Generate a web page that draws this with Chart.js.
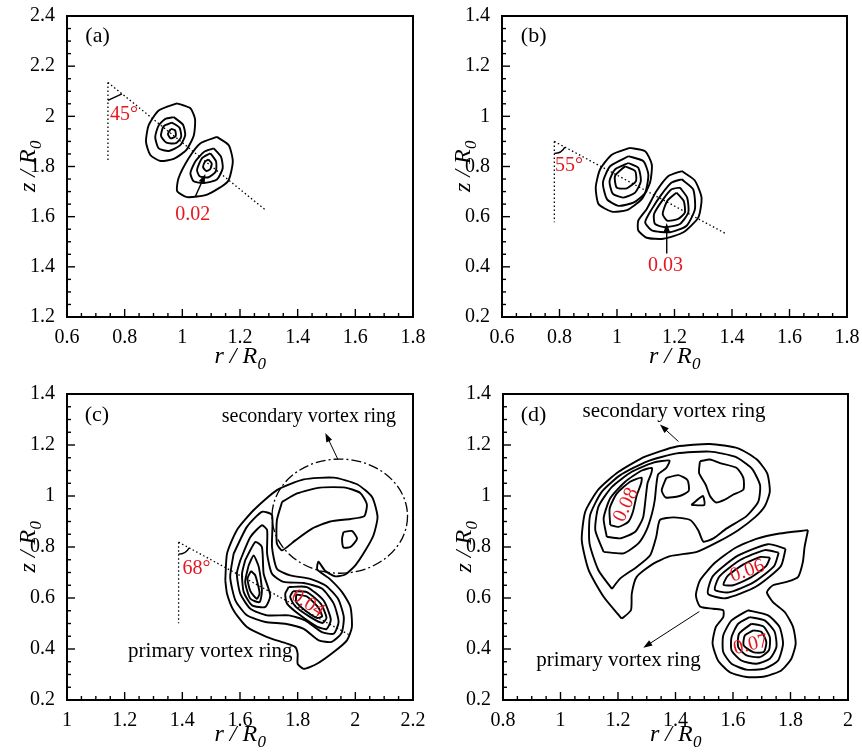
<!DOCTYPE html>
<html>
<head>
<meta charset="utf-8">
<title>vortex ring contours</title>
<script src="https://cdn.jsdelivr.net/npm/chart.js@4.4.1/dist/chart.umd.min.js"></script>
<style>
  html, body { margin: 0; padding: 0; background: #fff; }
  #wrap { position: relative; width: 862px; height: 756px; overflow: hidden; }
  canvas { position: absolute; }
</style>
</head>
<body>
<div id="wrap">
  <canvas id="chartA" width="431" height="378" style="left:0;top:0"></canvas>
  <canvas id="chartB" width="431" height="378" style="left:431px;top:0"></canvas>
  <canvas id="chartC" width="431" height="378" style="left:0;top:378px"></canvas>
  <canvas id="chartD" width="431" height="378" style="left:431px;top:378px"></canvas>
</div>
<script>
const RED = '#e3171f';
const SERIF = '"Liberation Serif", "Times New Roman", serif';

// ---- tick labels ----
const aXTicks = [0.6, 0.8, 1, 1.2, 1.4, 1.6, 1.8];
const aYTicks = [1.2, 1.4, 1.6, 1.8, 2, 2.2, 2.4];
const bXTicks = [0.6, 0.8, 1, 1.2, 1.4, 1.6, 1.8];
const bYTicks = [0.2, 0.4, 0.6, 0.8, 1, 1.2, 1.4];
const cXTicks = [1, 1.2, 1.4, 1.6, 1.8, 2, 2.2];
const cYTicks = [0.2, 0.4, 0.6, 0.8, 1, 1.2, 1.4];
const dXTicks = [0.8, 1, 1.2, 1.4, 1.6, 1.8, 2];
const dYTicks = [0.2, 0.4, 0.6, 0.8, 1, 1.2, 1.4];

// ---- (a) contour lines, [r/R0, z/R0] ----
const aUpper1 = [[0.982,2.052],[1.028,2.032],[1.044,1.990],[1.040,1.925],[1.014,1.866],[0.970,1.830],[0.924,1.822],[0.889,1.846],[0.874,1.898],[0.883,1.964],[0.918,2.023]];
const aUpper2 = [[0.970,1.997],[1.002,1.967],[1.010,1.925],[0.993,1.885],[0.953,1.862],[0.918,1.872],[0.906,1.918],[0.918,1.964],[0.941,1.990]];
const aUpper3 = [[0.964,1.975],[0.990,1.955],[0.996,1.918],[0.978,1.893],[0.945,1.895],[0.926,1.922],[0.935,1.960]];
const aUpper4 = [[0.960,1.950],[0.975,1.944],[0.977,1.921],[0.960,1.912],[0.950,1.930]];
const aLower1 = [[1.120,1.918],[1.161,1.885],[1.175,1.820],[1.158,1.741],[1.086,1.688],[1.016,1.678],[0.982,1.702],[0.987,1.754],[1.022,1.833],[1.062,1.892]];
const aLower2 = [[1.109,1.872],[1.134,1.839],[1.140,1.793],[1.120,1.748],[1.074,1.734],[1.039,1.741],[1.028,1.774],[1.045,1.820],[1.076,1.859]];
const aLower3 = [[1.097,1.853],[1.117,1.820],[1.116,1.780],[1.091,1.757],[1.060,1.761],[1.051,1.787],[1.068,1.833]];
const aLower4 = [[1.090,1.828],[1.102,1.812],[1.097,1.790],[1.083,1.782],[1.072,1.797],[1.078,1.818]];
const aGuideV = [[0.742,2.135],[0.742,1.817]];
const aGuideD = [[0.742,2.135],[1.286,1.629]];

// ---- (b) ----
const bUpper1 = [[1.045,0.874],[1.098,0.861],[1.121,0.808],[1.115,0.736],[1.086,0.670],[1.034,0.626],[0.982,0.620],[0.936,0.650],[0.926,0.716],[0.941,0.788],[0.982,0.847]];
const bUpper2 = [[1.040,0.841],[1.092,0.821],[1.109,0.768],[1.098,0.696],[1.059,0.657],[1.005,0.643],[0.965,0.670],[0.951,0.736],[0.976,0.801]];
const bUpper3 = [[1.040,0.814],[1.074,0.795],[1.083,0.742],[1.063,0.696],[1.022,0.676],[0.985,0.692],[0.974,0.742],[0.993,0.788]];
const bUpper4 = [[1.028,0.801],[1.063,0.782],[1.066,0.742],[1.034,0.713],[0.999,0.716],[0.993,0.762]];
const bLower1 = [[1.225,0.782],[1.270,0.745],[1.294,0.676],[1.283,0.597],[1.231,0.538],[1.161,0.512],[1.103,0.516],[1.074,0.545],[1.074,0.584],[1.103,0.630],[1.138,0.703],[1.179,0.762]];
const bLower2 = [[1.225,0.749],[1.265,0.709],[1.271,0.630],[1.242,0.564],[1.184,0.538],[1.121,0.545],[1.098,0.578],[1.121,0.630],[1.155,0.689],[1.190,0.736]];
const bLower3 = [[1.219,0.716],[1.244,0.676],[1.248,0.617],[1.219,0.571],[1.167,0.558],[1.132,0.571],[1.129,0.611],[1.161,0.670],[1.190,0.709]];
const bLower4 = [[1.207,0.696],[1.232,0.663],[1.236,0.617],[1.213,0.591],[1.175,0.584],[1.159,0.611],[1.175,0.663]];
const bGuideV = [[0.782,0.900],[0.782,0.578]];
const bGuideD = [[0.782,0.900],[1.379,0.532]];

// ---- (c) ----
const cOuter = [[1.549,0.669],[1.555,0.774],[1.589,0.866],[1.647,0.944],[1.728,1.023],[1.821,1.065],[1.925,1.072],[2.006,1.046],[2.058,0.996],[2.077,0.918],[2.063,0.846],[2.035,0.787],[2.000,0.728],[1.965,0.692],[1.931,0.685],[1.896,0.706],[1.872,0.742],[1.868,0.712],[1.910,0.676],[1.954,0.623],[1.983,0.565],[1.988,0.486],[1.971,0.434],[1.925,0.388],[1.867,0.342],[1.821,0.322],[1.800,0.342],[1.800,0.381],[1.792,0.407],[1.763,0.421],[1.694,0.447],[1.624,0.486],[1.578,0.551],[1.555,0.617]];
const cPrim1 = [[1.578,0.774],[1.624,0.879],[1.676,0.938],[1.711,0.925],[1.711,0.800],[1.728,0.715],[1.774,0.689],[1.844,0.675],[1.898,0.648],[1.940,0.597],[1.960,0.525],[1.952,0.462],[1.918,0.428],[1.873,0.434],[1.821,0.479],[1.757,0.499],[1.688,0.506],[1.624,0.532],[1.584,0.591],[1.566,0.682]];
const cPrim2 = [[1.601,0.748],[1.636,0.839],[1.676,0.885],[1.694,0.866],[1.694,0.774],[1.711,0.695],[1.751,0.663],[1.821,0.659],[1.884,0.637],[1.925,0.578],[1.942,0.506],[1.925,0.460],[1.884,0.466],[1.826,0.512],[1.769,0.532],[1.694,0.532],[1.636,0.558],[1.601,0.617],[1.589,0.695]];
const cLeft3 = [[1.618,0.748],[1.653,0.820],[1.676,0.800],[1.682,0.695],[1.705,0.610],[1.688,0.565],[1.642,0.571],[1.613,0.623],[1.607,0.695]];
const cLeft4 = [[1.630,0.728],[1.647,0.767],[1.665,0.722],[1.676,0.630],[1.668,0.584],[1.636,0.597],[1.618,0.663]];
const cLeft5 = [[1.638,0.706],[1.653,0.689],[1.668,0.619],[1.659,0.597],[1.636,0.627],[1.626,0.676]];
const cRight3 = [[1.769,0.643],[1.832,0.643],[1.890,0.590],[1.915,0.515],[1.900,0.478],[1.867,0.488],[1.809,0.532],[1.763,0.578],[1.757,0.617]];
const cRight4 = [[1.784,0.627],[1.832,0.623],[1.880,0.578],[1.900,0.522],[1.886,0.502],[1.844,0.525],[1.792,0.567],[1.774,0.604]];
const cRight5 = [[1.795,0.614],[1.832,0.606],[1.870,0.565],[1.885,0.528],[1.866,0.522],[1.826,0.551],[1.795,0.584]];
const cSec2 = [[1.746,0.977],[1.798,1.010],[1.878,1.033],[1.965,1.033],[2.017,1.012],[2.040,0.968],[2.031,0.921],[1.983,0.910],[1.913,0.900],[1.850,0.872],[1.792,0.826],[1.746,0.787],[1.728,0.813],[1.728,0.905]];
const cSec3 = [[1.959,0.859],[1.988,0.863],[2.006,0.833],[1.983,0.800],[1.959,0.798],[1.954,0.833]];
const cGuideV = [[1.387,0.819],[1.387,0.501]];
const cGuideD = [[1.387,0.819],[1.980,0.455]];

// ---- (d) ----
const dSec1 = [[1.213,0.519],[1.150,0.605],[1.098,0.709],[1.074,0.827],[1.086,0.938],[1.132,1.026],[1.202,1.095],[1.294,1.154],[1.404,1.194],[1.520,1.204],[1.618,1.187],[1.682,1.144],[1.719,1.089],[1.728,1.017],[1.711,0.961],[1.676,0.916],[1.618,0.866],[1.549,0.821],[1.474,0.781],[1.381,0.764],[1.323,0.735],[1.265,0.683],[1.248,0.618],[1.245,0.552]];
const dSec2 = [[1.179,0.636],[1.132,0.709],[1.101,0.814],[1.103,0.925],[1.144,1.017],[1.208,1.082],[1.300,1.135],[1.404,1.167],[1.520,1.174],[1.607,1.154],[1.665,1.108],[1.694,1.043],[1.688,0.978],[1.647,0.921],[1.578,0.873],[1.532,0.834],[1.497,0.821],[1.479,0.866],[1.451,0.906],[1.393,0.916],[1.346,0.906],[1.333,0.840],[1.312,0.768],[1.265,0.722],[1.208,0.677]];
const dCore1 = [[1.150,0.781],[1.121,0.866],[1.132,0.958],[1.179,1.036],[1.248,1.095],[1.323,1.131],[1.379,1.139],[1.368,1.110],[1.340,1.085],[1.333,1.040],[1.328,0.985],[1.318,0.930],[1.300,0.868],[1.271,0.814],[1.219,0.775]];
const dCore2 = [[1.161,0.840],[1.150,0.912],[1.173,0.991],[1.225,1.056],[1.283,1.100],[1.318,1.110],[1.316,1.090],[1.303,1.052],[1.296,0.990],[1.287,0.915],[1.260,0.860],[1.208,0.834]];
const dCore3 = [[1.173,0.886],[1.171,0.951],[1.196,1.010],[1.242,1.056],[1.282,1.072],[1.280,1.048],[1.265,1.002],[1.252,0.938],[1.236,0.899],[1.202,0.879]];
const dMid = [[1.368,1.071],[1.410,1.082],[1.442,1.062],[1.446,1.020],[1.414,1.000],[1.366,0.994],[1.352,1.022]];
const dBlob = [[1.485,1.136],[1.520,1.143],[1.555,1.129],[1.613,1.110],[1.636,1.071],[1.636,1.025],[1.600,1.005],[1.570,0.985],[1.540,0.975],[1.520,1.000],[1.505,1.044],[1.482,1.090]];
const dTri = [[1.455,0.965],[1.495,1.000],[1.500,0.965]];
const dPrim1 = [[1.861,0.866],[1.849,0.800],[1.843,0.741],[1.826,0.682],[1.786,0.663],[1.739,0.650],[1.718,0.623],[1.739,0.584],[1.780,0.545],[1.809,0.486],[1.818,0.421],[1.803,0.362],[1.768,0.316],[1.710,0.292],[1.647,0.290],[1.589,0.309],[1.548,0.355],[1.529,0.421],[1.540,0.486],[1.566,0.525],[1.566,0.552],[1.531,0.558],[1.485,0.567],[1.471,0.611],[1.485,0.669],[1.537,0.738],[1.606,0.795],[1.681,0.832],[1.762,0.853]];
const dUp1 = [[1.783,0.793],[1.766,0.724],[1.679,0.644],[1.574,0.599],[1.513,0.617],[1.530,0.686],[1.617,0.766],[1.722,0.811]];
const dUp2 = [[1.759,0.778],[1.743,0.725],[1.671,0.661],[1.585,0.622],[1.537,0.632],[1.553,0.685],[1.625,0.749],[1.711,0.788]];
const dUp3 = [[1.729,0.758],[1.715,0.725],[1.661,0.680],[1.600,0.650],[1.567,0.652],[1.581,0.686],[1.635,0.731],[1.696,0.761]];
const dLow1 = [[1.652,0.552],[1.722,0.532],[1.762,0.486],[1.774,0.421],[1.757,0.355],[1.710,0.323],[1.647,0.319],[1.595,0.342],[1.566,0.388],[1.566,0.453],[1.595,0.512]];
const dLow2 = [[1.658,0.525],[1.710,0.512],[1.745,0.467],[1.751,0.408],[1.728,0.362],[1.681,0.342],[1.629,0.355],[1.595,0.395],[1.595,0.447],[1.618,0.499]];
const dLow3 = [[1.664,0.499],[1.705,0.489],[1.728,0.447],[1.725,0.395],[1.693,0.368],[1.647,0.375],[1.618,0.408],[1.621,0.460]];
const dLow4 = [[1.670,0.473],[1.699,0.467],[1.716,0.427],[1.707,0.388],[1.670,0.388],[1.637,0.414],[1.641,0.453]];

// ---- panel setups ----
const panels = [
  {
    id: 'chartA', xTicks: aXTicks, yTicks: aYTicks, padTop: 13, padRight: 18, yW: 67, xH: 61,
    contours: [aUpper1, aUpper2, aUpper3, aUpper4, aLower1, aLower2, aLower3, aLower4],
    guides: [aGuideV, aGuideD],
    arc: { apex: [0.742, 2.135], toward: [1.286, 1.629], r: 18, chord: true },
    arrows: [{ from: [1.045, 1.680], to: [1.080, 1.770], w: 1.4 }],
    texts: [
      { t: '(a)', at: [0.706, 2.295], size: 22 },
      { t: '45°', at: [0.798, 1.984], size: 20, color: RED },
      { t: '0.02', at: [1.036, 1.586], size: 20, color: RED }
    ]
  },
  {
    id: 'chartB', xTicks: bXTicks, yTicks: bYTicks, padTop: 13, padRight: 15, yW: 71, xH: 61,
    contours: [bUpper1, bUpper2, bUpper3, bUpper4, bLower1, bLower2, bLower3, bLower4],
    guides: [bGuideV, bGuideD],
    arc: { apex: [0.782, 0.900], toward: [1.379, 0.532], r: 12 },
    arrows: [{ from: [1.173, 0.453], to: [1.173, 0.575], w: 1.4 }],
    texts: [
      { t: '(b)', at: [0.710, 1.297], size: 22 },
      { t: '55°', at: [0.833, 0.784], size: 20, color: RED },
      { t: '0.03', at: [1.169, 0.384], size: 20, color: RED }
    ]
  },
  {
    id: 'chartC', xTicks: cXTicks, yTicks: cYTicks, padTop: 16, padRight: 18, yW: 67, xH: 56,
    contours: [cOuter, cPrim1, cPrim2, cLeft3, cLeft4, cLeft5, cRight3, cRight4, cRight5, cSec2, cSec3],
    guides: [cGuideV, cGuideD],
    arc: { apex: [1.387, 0.819], toward: [1.980, 0.455], r: 12 },
    ring: { center: [1.946, 0.921], rx: 0.235, rz: 0.224 },
    arrows: [{ from: [1.939, 1.145], to: [1.896, 1.247], w: 1 }],
    texts: [
      { t: '(c)', at: [1.104, 1.293], size: 22 },
      { t: '68°', at: [1.449, 0.693], size: 20, color: RED },
      { t: 'secondary vortex ring', at: [1.839, 1.290], size: 20 },
      { t: 'primary vortex ring', at: [1.497, 0.370], size: 21 },
      { t: '0.04', at: [1.835, 0.578], size: 20, color: RED, rot: 33 }
    ]
  },
  {
    id: 'chartD', xTicks: dXTicks, yTicks: dYTicks, padTop: 16, padRight: 14, yW: 72, xH: 56,
    contours: [dSec1, dSec2, dCore1, dCore2, dCore3, dMid, dBlob, dTri, dPrim1, dUp1, dUp2, dUp3, dLow1, dLow2, dLow3, dLow4],
    guides: [],
    arrows: [
      { from: [1.410, 1.214], to: [1.346, 1.280], w: 1 },
      { from: [1.483, 0.547], to: [1.288, 0.405], w: 1 }
    ],
    texts: [
      { t: '(d)', at: [0.906, 1.295], size: 22 },
      { t: 'secondary vortex ring', at: [1.395, 1.308], size: 21 },
      { t: 'primary vortex ring', at: [1.202, 0.335], size: 21 },
      { t: '0.08', at: [1.228, 0.965], size: 20, color: RED, rot: -65 },
      { t: '0.06', at: [1.650, 0.706], size: 20, color: RED, rot: -19 },
      { t: '0.07', at: [1.662, 0.416], size: 20, color: RED, rot: -14 }
    ]
  }
];

function toPoints(arr) {
  return arr.map(p => ({ x: p[0], y: p[1] }));
}

function fmt(v) {
  return String(Number(v.toFixed(2)));
}

function drawArrow(ctx, a, b, w) {
  const ang = Math.atan2(b[1] - a[1], b[0] - a[0]);
  const head = 9, half = 3.2;
  ctx.lineWidth = w;
  ctx.beginPath();
  ctx.moveTo(a[0], a[1]);
  ctx.lineTo(b[0] - Math.cos(ang) * head * 0.7, b[1] - Math.sin(ang) * head * 0.7);
  ctx.stroke();
  ctx.beginPath();
  ctx.moveTo(b[0], b[1]);
  ctx.lineTo(b[0] - head * Math.cos(ang) + half * Math.sin(ang), b[1] - head * Math.sin(ang) - half * Math.cos(ang));
  ctx.lineTo(b[0] - head * Math.cos(ang) - half * Math.sin(ang), b[1] - head * Math.sin(ang) + half * Math.cos(ang));
  ctx.closePath();
  ctx.fill();
}

function drawTitle(ctx, letter, x, y, vertical) {
  ctx.save();
  ctx.translate(x, y);
  if (vertical) ctx.rotate(-Math.PI / 2);
  ctx.textAlign = 'left';
  ctx.textBaseline = 'alphabetic';
  const main = letter + ' / R';
  ctx.font = 'italic 24px ' + SERIF;
  const w1 = ctx.measureText(main).width;
  ctx.font = 'italic 17px ' + SERIF;
  const w2 = ctx.measureText('0').width;
  const x0 = -(w1 + w2) / 2;
  ctx.font = 'italic 24px ' + SERIF;
  ctx.fillText(main, x0, 0);
  ctx.font = 'italic 17px ' + SERIF;
  ctx.fillText('0', x0 + w1 + 0.5, 6);
  ctx.restore();
}

function panelPlugin(p) {
  return {
    id: 'deco',
    afterDraw(chart) {
      const ctx = chart.ctx, a = chart.chartArea;
      const xs = chart.scales.x, ys = chart.scales.y;
      const P = v => [xs.getPixelForValue(v[0]), ys.getPixelForValue(v[1])];
      ctx.save();
      ctx.strokeStyle = '#000';
      ctx.fillStyle = '#000';

      // dash-dot circle round the secondary ring
      if (p.ring) {
        const c = P(p.ring.center);
        const rx = Math.abs(xs.getPixelForValue(p.ring.center[0] + p.ring.rx) - c[0]);
        const ry = Math.abs(ys.getPixelForValue(p.ring.center[1] + p.ring.rz) - c[1]);
        ctx.lineWidth = 1.3;
        ctx.setLineDash([10, 3, 2, 3]);
        ctx.beginPath();
        ctx.ellipse(c[0], c[1], rx, ry, 0, 0, Math.PI * 2);
        ctx.stroke();
        ctx.setLineDash([]);
      }

      // angle mark
      if (p.arc) {
        const o = P(p.arc.apex), t = P(p.arc.toward);
        const ang = Math.atan2(t[1] - o[1], t[0] - o[0]);
        ctx.lineWidth = 1.4;
        ctx.beginPath();
        if (p.arc.chord) {
          ctx.moveTo(o[0], o[1] + p.arc.r);
          ctx.lineTo(o[0] + p.arc.r * Math.cos(ang), o[1] + p.arc.r * Math.sin(ang));
        } else {
          ctx.arc(o[0], o[1], p.arc.r, ang, Math.PI / 2);
        }
        ctx.stroke();
      }

      p.arrows.forEach(ar => drawArrow(ctx, P(ar.from), P(ar.to), ar.w));

      p.texts.forEach(tx => {
        const q = P(tx.at);
        ctx.save();
        ctx.translate(q[0], q[1]);
        ctx.fillStyle = tx.color || '#000';
        ctx.font = tx.size + 'px ' + SERIF;
        ctx.textAlign = 'center';
        if (tx.rot !== undefined) {
          ctx.rotate(tx.rot * Math.PI / 180);
          ctx.textBaseline = 'middle';
        } else {
          ctx.textBaseline = 'alphabetic';
        }
        ctx.fillText(tx.t, 0, 0);
        ctx.restore();
      });

      // frame
      ctx.lineWidth = 2;
      ctx.strokeRect(a.left, a.top, a.right - a.left, a.bottom - a.top);

      // inward ticks, minor every 0.05
      ctx.lineWidth = 1.4;
      const x0 = p.xTicks[0], x1 = p.xTicks[p.xTicks.length - 1];
      const nx = Math.round((x1 - x0) / 0.05);
      for (let i = 0; i <= nx; i++) {
        const X = xs.getPixelForValue(x0 + i * 0.05);
        const len = i % 4 === 0 ? 8 : 4;
        ctx.beginPath();
        ctx.moveTo(X, a.bottom);
        ctx.lineTo(X, a.bottom - len);
        ctx.stroke();
      }
      const y0 = p.yTicks[0], y1 = p.yTicks[p.yTicks.length - 1];
      const ny = Math.round((y1 - y0) / 0.05);
      for (let i = 0; i <= ny; i++) {
        const Y = ys.getPixelForValue(y0 + i * 0.05);
        const len = i % 4 === 0 ? 8 : 4;
        ctx.beginPath();
        ctx.moveTo(a.left, Y);
        ctx.lineTo(a.left + len, Y);
        ctx.stroke();
      }

      // axis titles
      ctx.fillStyle = '#000';
      drawTitle(ctx, 'r', (a.left + a.right) / 2, 363, false);
      drawTitle(ctx, 'z', a.left - 32, (a.top + a.bottom) / 2, true);
      ctx.restore();
    }
  };
}

panels.forEach(p => {
  const datasets = p.contours.map(c => ({
    data: toPoints(c.concat([c[0]])),
    showLine: true,
    pointRadius: 0,
    borderColor: '#000',
    borderWidth: 1.9,
    tension: 0.2
  }));
  p.guides.forEach(g => datasets.push({
    data: toPoints(g),
    showLine: true,
    pointRadius: 0,
    borderColor: '#000',
    borderWidth: 1.3,
    borderDash: [1.5, 2.5]
  }));

  const tickFont = { family: SERIF, size: 20 };
  new Chart(document.getElementById(p.id), {
    type: 'scatter',
    data: { datasets },
    options: {
      responsive: false,
      animation: false,
      events: [],
      layout: { padding: { top: p.padTop, right: p.padRight, left: 0, bottom: 0 } },
      plugins: { legend: { display: false }, tooltip: { enabled: false } },
      scales: {
        x: {
          type: 'linear',
          min: p.xTicks[0],
          max: p.xTicks[p.xTicks.length - 1],
          grid: { display: false },
          border: { display: false },
          afterBuildTicks: s => { s.ticks = p.xTicks.map(v => ({ value: v })); },
          afterFit: s => { s.height = p.xH; },
          ticks: { autoSkip: false, maxRotation: 0, padding: 1, color: '#000', font: tickFont, callback: v => fmt(v) }
        },
        y: {
          type: 'linear',
          min: p.yTicks[0],
          max: p.yTicks[p.yTicks.length - 1],
          grid: { display: false },
          border: { display: false },
          afterBuildTicks: s => { s.ticks = p.yTicks.map(v => ({ value: v })); },
          afterFit: s => { s.width = p.yW; },
          ticks: { autoSkip: false, padding: 4, color: '#000', font: tickFont, callback: v => fmt(v) }
        }
      }
    },
    plugins: [panelPlugin(p)]
  });
});
</script>
</body>
</html>
